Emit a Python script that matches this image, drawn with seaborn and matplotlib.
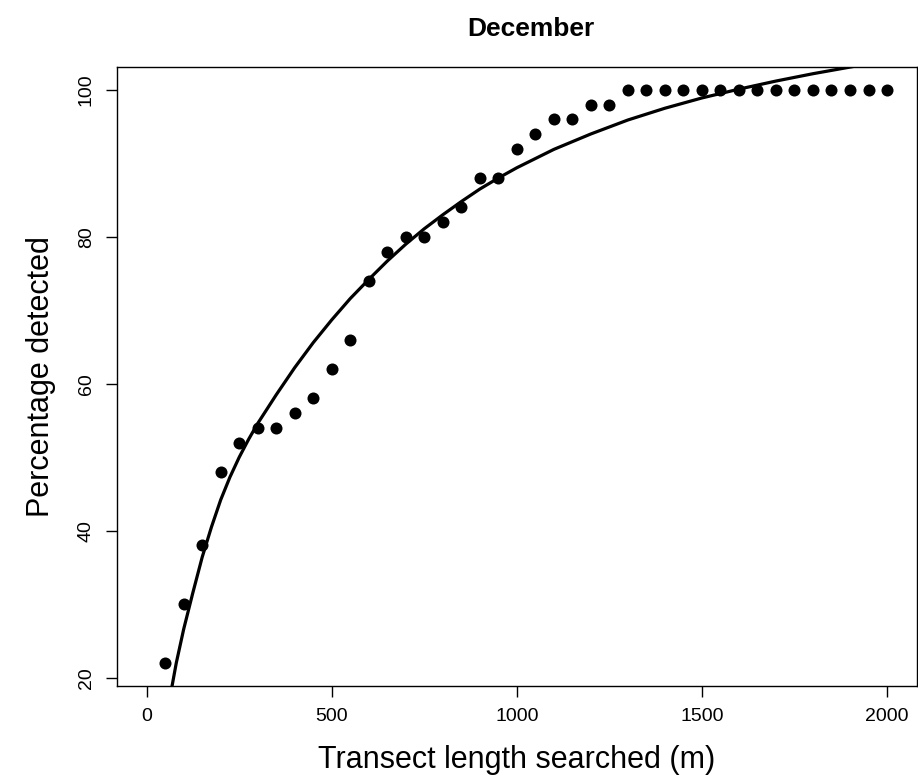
import matplotlib
matplotlib.use("Agg")
import matplotlib.pyplot as plt
import seaborn as sns
import pandas as pd

# observed detections (transect length in m, % detected)
transect_len = [50, 100, 150, 200, 250, 300, 350, 400, 450, 500,
                550, 600, 650, 700, 750, 800, 850, 900, 950, 1000,
                1050, 1100, 1150, 1200, 1250, 1300, 1350, 1400, 1450, 1500,
                1550, 1600, 1650, 1700, 1750, 1800, 1850, 1900, 1950, 2000]
pct_detected = [22, 30, 38, 48, 52, 54, 54, 56, 58, 62,
                66, 74, 78, 80, 80, 82, 84, 88, 88, 92,
                94, 96, 96, 98, 98, 100, 100, 100, 100, 100,
                100, 100, 100, 100, 100, 100, 100, 100, 100, 100]

# fitted curve
fit_x = [60, 80, 100, 125, 150, 175, 200, 225, 250, 275, 300, 350, 400, 450, 500,
         550, 600, 650, 700, 750, 800, 850, 900, 950, 1000, 1100, 1200,
         1300, 1400, 1500, 1600, 1700, 1800, 1900, 2000]
fit_y = [16.5, 22.0, 26.6, 31.6, 36.4, 40.5, 44.2, 47.3, 50.0, 52.4, 54.6, 58.5, 62.2,
         65.6, 68.7, 71.6, 74.2, 76.7, 79.0, 81.1, 83.0, 84.8, 86.5, 88.0,
         89.4, 91.9, 94.0, 95.9, 97.5, 98.9, 100.1, 101.2, 102.2, 103.1, 104.0]

x_ticks = [0, 500, 1000, 1500, 2000]
y_ticks = [20, 40, 60, 80, 100]

obs = pd.DataFrame({"length": transect_len, "pct": pct_detected})
fit = pd.DataFrame({"length": fit_x, "pct": fit_y})

sns.set_style("ticks")
plt.rcParams['font.family'] = ['Liberation Sans', 'DejaVu Sans']
plt.rcParams['text.color'] = 'black'
plt.rcParams['axes.labelcolor'] = 'black'
plt.rcParams['xtick.color'] = 'black'
plt.rcParams['ytick.color'] = 'black'

fig = plt.figure(figsize=(9.18, 7.83), dpi=100)
ax = fig.add_axes([0.1275, 0.124, 0.871, 0.7905])

sns.lineplot(data=fit, x="length", y="pct", color="black", linewidth=2.3, ax=ax, sort=False)
sns.scatterplot(data=obs, x="length", y="pct", color="black", s=75, edgecolor="black",
                linewidth=0, ax=ax, zorder=3)

ax.set_xlim(-80, 2080)
ax.set_ylim(18.88, 103.12)
ax.set_xticks(x_ticks)
ax.set_yticks(y_ticks)
ax.set_xticklabels([str(v) for v in x_ticks], fontsize=14)
ax.set_yticklabels([str(v) for v in y_ticks], fontsize=14, rotation=90, va="center")
ax.tick_params(axis="both", direction="out", length=8, width=1, color="black", pad=8)

for sp in ax.spines.values():
    sp.set_visible(True)
    sp.set_color("black")
    sp.set_linewidth(1.0)

ax.set_xlabel("Transect length searched (m)", fontsize=22, labelpad=14)
ax.set_ylabel("Percentage detected", fontsize=22, labelpad=16)
fig.text(0.578, 0.963, "December", ha="center", va="center", fontsize=19, fontweight="bold")

fig.savefig("out.png", dpi=100)
